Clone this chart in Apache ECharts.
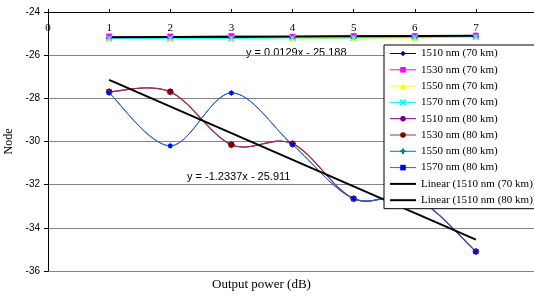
<!DOCTYPE html>
<html><head><meta charset="utf-8">
<script src="https://cdn.jsdelivr.net/npm/echarts@6/dist/echarts.min.js"></script>
<style>html,body{margin:0;padding:0;background:#fff}#c{width:534px;height:297px}</style>
</head><body><div id="c"></div>
<script>
var xValues = [1, 2, 3, 4, 5, 6, 7];
var s1510_70 = [-25.17, -25.16, -25.17, -25.14, -25.11, -25.12, -25.09];
var s1530_70 = [-25.14, -25.14, -25.12, -25.15, -25.12, -25.12, -25.10];
var s1550_70 = [-25.25, -25.25, -25.25, -25.25, -25.21, -25.2, -25.16];
var s1570_70 = [-25.22, -25.22, -25.22, -25.2, -25.2, -25.18, -25.15];
var s1510_80 = [-27.7, -27.7, -30.15, -30.1, -32.65, -32.6, -35.1];
var s1530_80 = [-27.7, -27.7, -30.15, -30.1, -32.65, -32.6, -35.1];
var s1550_80 = [-27.75, -30.2, -27.75, -30.15, -32.65, -32.6, -35.1];
var s1570_80 = [-27.75, -30.2, -27.75, -30.15, -32.65, -32.6, -35.1];
var trendX = [1, 7];
var trend70 = [-25.175, -25.098];
var trend80 = [-27.145, -34.547];
var seriesNames = ['1510 nm (70 km)', '1530 nm (70 km)', '1550 nm (70 km)', '1570 nm (70 km)',
  '1510 nm (80 km)', '1530 nm (80 km)', '1550 nm (80 km)', '1570 nm (80 km)',
  'Linear (1510 nm (70 km))', 'Linear (1510 nm (80 km))'];
var yTicks = { min: -36, max: -24, step: 2 };
var xTicks = { min: 0, max: 8, step: 1 };
var eq70 = 'y = 0.0129x - 25.188';
var eq80 = 'y = -1.2337x - 25.911';

function pairs(xs, ys) { return xs.map(function (x, i) { return [x, ys[i]]; }); }

var X_PATH = 'path://M0,0L10,10M10,0L0,10';
var STAR_PATH = 'path://M5,0L5,10M0,5L10,5M1.5,1.5L8.5,8.5M8.5,1.5L1.5,8.5';
var PLUS_PATH = 'path://M5,0L5,10M0,5L10,5';

// Excel-style smoothed curve drawn through the axes' scales (api.coord)
function curve(ys, color, width) {
  return {
    type: 'custom', silent: true, data: [[xValues[0], ys[0]]], animation: false, clip: true,
    renderItem: function (params, api) {
      var p = xValues.map(function (x, i) { return api.coord([x, ys[i]]); });
      var d = 'M' + p[0][0] + ' ' + p[0][1];
      for (var i = 0; i < p.length - 1; i++) {
        var p0 = p[i - 1] || p[i], p1 = p[i], p2 = p[i + 1], p3 = p[i + 2] || p[i + 1];
        var c1x = p1[0] + (p2[0] - p0[0]) / 6, c1y = p1[1] + (p2[1] - p0[1]) / 6;
        var c2x = p2[0] - (p3[0] - p1[0]) / 6, c2y = p2[1] - (p3[1] - p1[1]) / 6;
        d += ' C' + c1x + ' ' + c1y + ' ' + c2x + ' ' + c2y + ' ' + p2[0] + ' ' + p2[1];
      }
      return { type: 'path', shape: { pathData: d }, style: { fill: null, stroke: color, lineWidth: width } };
    }
  };
}

function marks(name, data, symbol, size, symColor, strokeOnly) {
  return {
    name: name, type: 'line', data: pairs(xValues, data),
    symbol: symbol, symbolSize: size, showAllSymbol: true,
    lineStyle: { opacity: 0, width: 0 },
    itemStyle: strokeOnly ? { color: 'rgba(0,0,0,0)', borderColor: symColor, borderWidth: 1.2 } : { color: symColor, borderColor: symColor, borderWidth: 0 },
    emphasis: { disabled: true }, animation: false
  };
}

var defs = [
  [seriesNames[0], s1510_70, '#000080', 1, 'diamond', 6, '#000080', false],
  [seriesNames[1], s1530_70, '#ff00ff', 1, 'rect', 6, '#ff00ff', false],
  [seriesNames[2], s1550_70, '#ffff00', 1, 'triangle', 6, '#ffff00', false],
  [seriesNames[3], s1570_70, '#00ffff', 1, X_PATH, 6, '#00ffff', true],
  [seriesNames[4], s1510_80, '#800080', 1, STAR_PATH, 7, '#800080', true],
  [seriesNames[5], s1530_80, '#993350', 1.3, 'circle', 6, '#800000', false],
  [seriesNames[6], s1550_80, '#008080', 1, PLUS_PATH, 6, '#008080', true],
  [seriesNames[7], s1570_80, '#3355f0', 1, 'rect', 4, '#0000ff', false]
];

var ser = [];
var legendData = [];
defs.forEach(function (d) {
  ser.push(curve(d[1], d[2], d[3]));
  ser.push(marks(d[0], d[1], d[4], d[5], d[6], d[7]));
  legendData.push({ name: d[0], lineStyle: { opacity: 1, width: 1, color: d[2] } });
});
ser.push({ name: seriesNames[8], type: 'line', data: pairs(trendX, trend70), symbol: 'none',
  lineStyle: { color: '#000', width: 2 }, itemStyle: { color: '#000' }, animation: false, z: 3 });
ser.push({ name: seriesNames[9], type: 'line', data: pairs(trendX, trend80), symbol: 'none',
  lineStyle: { color: '#000', width: 2 }, itemStyle: { color: '#000' }, animation: false, z: 3 });
legendData.push({ name: seriesNames[8], itemStyle: { opacity: 0 }, lineStyle: { opacity: 1, width: 2, color: '#000' } });
legendData.push({ name: seriesNames[9], itemStyle: { opacity: 0 }, lineStyle: { opacity: 1, width: 2, color: '#000' } });

var chart = echarts.init(document.getElementById('c'), null, { renderer: 'canvas' });
chart.setOption({
  animation: false,
  backgroundColor: '#fff',
  grid: { left: 48, top: 12, width: 489, height: 259, containLabel: false, outerBoundsMode: 'none' },
  xAxis: {
    type: 'value', min: xTicks.min, max: xTicks.max, interval: xTicks.step, position: 'top',
    axisLine: { onZero: false, lineStyle: { color: '#000', width: 1 } },
    axisTick: { show: true, length: 3, lineStyle: { color: '#000' } },
    axisLabel: { inside: true, margin: 11, color: '#000', fontFamily: 'Liberation Serif', fontSize: 11, showMaxLabel: true, showMinLabel: true },
    splitLine: { show: false }
  },
  yAxis: {
    type: 'value', min: yTicks.min, max: yTicks.max, interval: yTicks.step,
    name: 'Node', nameLocation: 'middle', nameGap: 27, nameRotate: 90,
    nameTextStyle: { fontFamily: 'Liberation Serif', fontSize: 12, color: '#000' },
    axisLine: { show: true, lineStyle: { color: '#000', width: 1 } },
    axisTick: { show: true, length: 4, lineStyle: { color: '#000' } },
    axisLabel: { margin: 8, color: '#000', fontFamily: 'Liberation Sans', fontSize: 10 },
    splitLine: { show: true, lineStyle: { color: '#858585', width: 1 } }
  },
  legend: {
    orient: 'vertical', left: 384, top: 45,
    backgroundColor: '#fff', borderColor: '#000', borderWidth: 1,
    padding: [3, 4, 3, 5], itemWidth: 26, itemHeight: 7, itemGap: 5.3,
    textStyle: { fontFamily: 'Liberation Serif', fontSize: 11, color: '#000', lineHeight: 10 },
    data: legendData
  },
  graphic: [
    { type: 'text', left: 246, top: 47, style: { text: eq70, fontFamily: 'Liberation Sans', fontSize: 11, fill: '#000' } },
    { type: 'text', left: 187, top: 171, style: { text: eq80, fontFamily: 'Liberation Sans', fontSize: 11, fill: '#000' } },
    { type: 'text', left: 212, top: 278, style: { text: 'Output power (dB)', fontFamily: 'Liberation Serif', fontSize: 13, fill: '#000' } }
  ],
  series: ser
});
</script></body></html>
